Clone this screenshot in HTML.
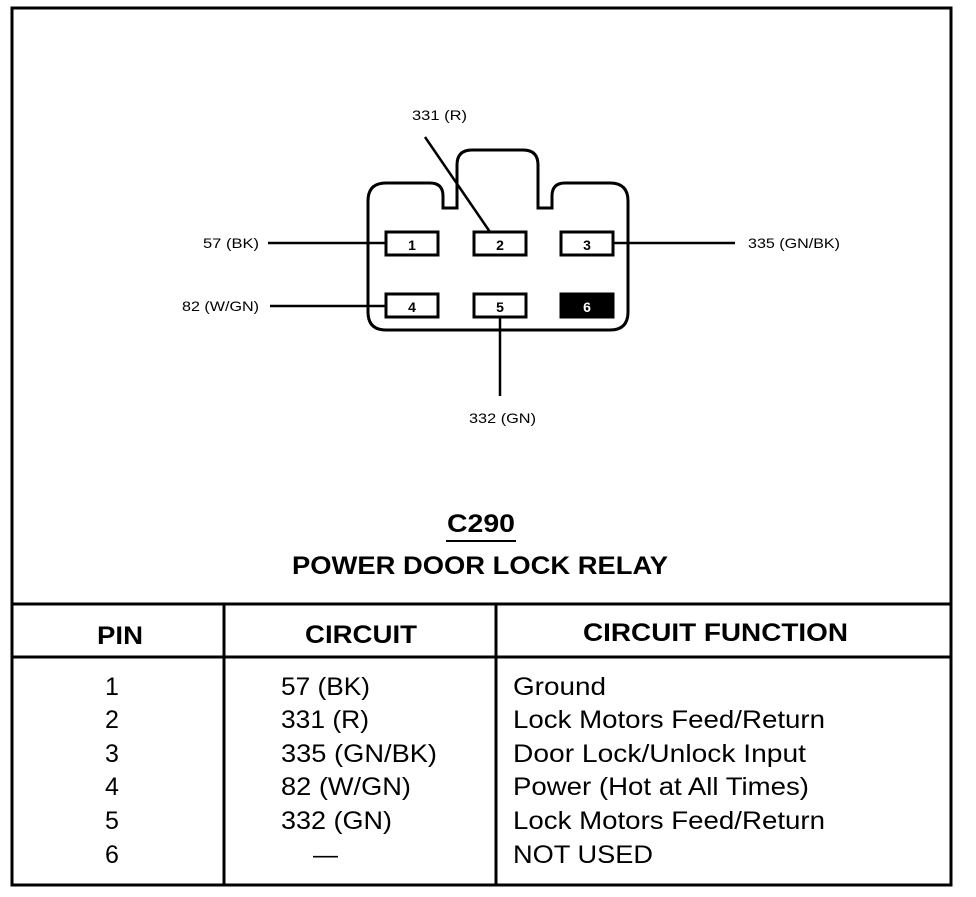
<!DOCTYPE html>
<html><head><style>
body{margin:0;background:#fff;}
svg text{font-family:"Liberation Sans",sans-serif;fill:#000;}
</style></head><body>
<svg width="976" height="892" viewBox="0 0 976 892" xmlns="http://www.w3.org/2000/svg">
<rect x="12" y="8" width="939" height="877" fill="none" stroke="#000" stroke-width="3"/>
<path d="M386,183 H430 Q443,183 443,196 V208 H457 V165 Q457,150 472,150 H523 Q538,150 538,165 V208 H552 V196 Q552,183 565,183 H610 Q628,183 628,201 V312 Q628,330 610,330 H386 Q368,330 368,312 V201 Q368,183 386,183 Z" fill="none" stroke="#000" stroke-width="3"/>
<g stroke="#000" stroke-width="3" fill="#fff">
<rect x="386" y="232" width="52" height="23"/>
<rect x="474" y="232" width="52" height="23"/>
<rect x="561" y="232" width="52" height="23"/>
<rect x="386" y="294" width="52" height="23"/>
<rect x="474" y="294" width="52" height="23"/>
<rect x="561" y="294" width="52" height="23" fill="#000"/>
</g>
<g font-size="14" font-weight="bold" text-anchor="middle">
<text x="412" y="250">1</text><text x="500" y="250">2</text><text x="587" y="250">3</text>
<text x="412" y="312">4</text><text x="500" y="312">5</text><text x="587" y="312" style="fill:#fff">6</text>
</g>
<g stroke="#000" stroke-width="2.5">
<line x1="268" y1="243" x2="386" y2="243"/>
<line x1="613" y1="243" x2="735" y2="243"/>
<line x1="270" y1="306" x2="386" y2="306"/>
<line x1="500" y1="317" x2="500" y2="396"/>
<line x1="425" y1="137" x2="490" y2="232"/>
</g>
<g font-size="14" lengthAdjust="spacingAndGlyphs">
<text x="412" y="120" textLength="55" lengthAdjust="spacingAndGlyphs">331 (R)</text>
<text x="203" y="248" textLength="56" lengthAdjust="spacingAndGlyphs">57 (BK)</text>
<text x="748" y="248" textLength="92" lengthAdjust="spacingAndGlyphs">335 (GN/BK)</text>
<text x="182" y="311" textLength="77" lengthAdjust="spacingAndGlyphs">82 (W/GN)</text>
<text x="469" y="423" textLength="67" lengthAdjust="spacingAndGlyphs">332 (GN)</text>
</g>
<text x="447" y="532" font-size="25" font-weight="bold" textLength="68" lengthAdjust="spacingAndGlyphs">C290</text>
<line x1="446" y1="541" x2="516" y2="541" stroke="#000" stroke-width="2"/>
<text x="292" y="574" font-size="25" font-weight="bold" textLength="376" lengthAdjust="spacingAndGlyphs">POWER DOOR LOCK RELAY</text>
<g stroke="#000" stroke-width="3">
<line x1="12" y1="604" x2="951" y2="604"/>
<line x1="12" y1="657" x2="951" y2="657"/>
<line x1="224" y1="604" x2="224" y2="885"/>
<line x1="496" y1="604" x2="496" y2="885"/>
</g>
<g font-size="25" font-weight="bold">
<text x="97" y="644" textLength="46" lengthAdjust="spacingAndGlyphs">PIN</text>
<text x="305" y="643" textLength="112" lengthAdjust="spacingAndGlyphs">CIRCUIT</text>
<text x="583" y="641" textLength="265" lengthAdjust="spacingAndGlyphs">CIRCUIT FUNCTION</text>
</g>
<g font-size="25">
<text x="112" y="695" text-anchor="middle">1</text>
<text x="112" y="728" text-anchor="middle">2</text>
<text x="112" y="762" text-anchor="middle">3</text>
<text x="112" y="795" text-anchor="middle">4</text>
<text x="112" y="829" text-anchor="middle">5</text>
<text x="112" y="863" text-anchor="middle">6</text>
<text x="281" y="695" textLength="89" lengthAdjust="spacingAndGlyphs">57 (BK)</text>
<text x="281" y="728" textLength="88" lengthAdjust="spacingAndGlyphs">331 (R)</text>
<text x="281" y="762" textLength="156" lengthAdjust="spacingAndGlyphs">335 (GN/BK)</text>
<text x="281" y="795" textLength="130" lengthAdjust="spacingAndGlyphs">82 (W/GN)</text>
<text x="281" y="829" textLength="111" lengthAdjust="spacingAndGlyphs">332 (GN)</text>
<text x="313" y="863">—</text>
<text x="513" y="695" textLength="93" lengthAdjust="spacingAndGlyphs">Ground</text>
<text x="513" y="728" textLength="312" lengthAdjust="spacingAndGlyphs">Lock Motors Feed/Return</text>
<text x="513" y="762" textLength="293" lengthAdjust="spacingAndGlyphs">Door Lock/Unlock Input</text>
<text x="513" y="795" textLength="296" lengthAdjust="spacingAndGlyphs">Power (Hot at All Times)</text>
<text x="513" y="829" textLength="312" lengthAdjust="spacingAndGlyphs">Lock Motors Feed/Return</text>
<text x="513" y="863" textLength="140" lengthAdjust="spacingAndGlyphs">NOT USED</text>
</g>
</svg>
</body></html>
